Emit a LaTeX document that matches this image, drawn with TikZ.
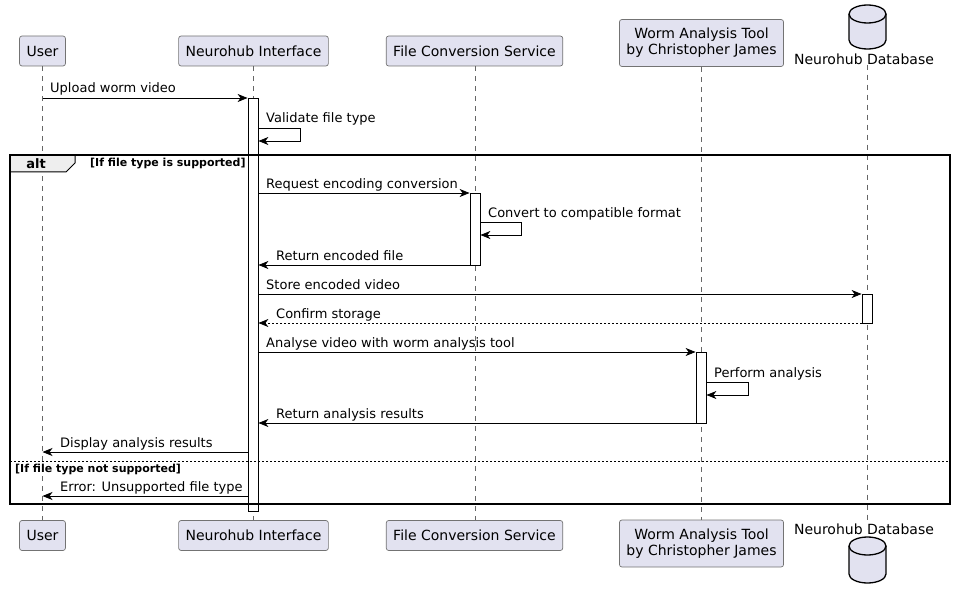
\documentclass[tikz,border=0pt]{standalone}
\usepackage{fontspec}
\setmainfont{DejaVu Sans}
\usetikzlibrary{arrows.meta}
\definecolor{partfill}{HTML}{E2E2F0}
\definecolor{tabfill}{HTML}{EEEEEE}

\begin{document}
\begin{tikzpicture}[x=1pt,y=-1pt,
  part/.style={draw=black!55,line width=0.7pt,fill=partfill,rounded corners=2.5pt,inner xsep=7pt,
    minimum height=30pt,align=center,font=\fontsize{14}{16}\selectfont},
  dblbl/.style={inner sep=0pt,font=\fontsize{14}{16}\selectfont},
  life/.style={draw=black!60,line width=0.6pt,dash pattern=on 5pt off 5pt},
  act/.style={draw=black,line width=0.8pt,fill=white,minimum width=10pt,inner sep=0pt},
  msg/.style={line width=0.8pt,-{Stealth[length=10pt,width=8pt,inset=3pt]}},
  ret/.style={msg,dash pattern=on 2pt off 2pt},
  lbl/.style={anchor=base west,inner sep=0pt,font=\fontsize{13}{15}\selectfont},
  cond/.style={anchor=base west,inner sep=0pt,font=\bfseries\fontsize{11}{13}\selectfont},
  frame/.style={draw=black,line width=1.4pt},
  dbshape/.style={draw=black,line width=1.3pt,fill=partfill}]
\useasboundingbox (0,0) rectangle (956,599);

\node[part] (userT) at (42.5,51) {User};
\node[part] (nhT) at (253.5,51) {Neurohub Interface};
\node[part] (fcT) at (474.5,51) {File Conversion Service};
\node[part,minimum height=47pt] (watT) at (701.5,43) {Worm Analysis Tool\\by Christopher James};
\node[dblbl] (dbT) at (864,59) {Neurohub Database};
\node[part] (userB) at (42.5,535.5) {User};
\node[part] (nhB) at (253.5,535.5) {Neurohub Interface};
\node[part] (fcB) at (474.5,535.5) {File Conversion Service};
\node[part,minimum height=47pt] (watB) at (701.5,543.5) {Worm Analysis Tool\\by Christopher James};
\node[dblbl] (dbB) at (864,529) {Neurohub Database};

\draw[dbshape] (849,14) -- (849,40) arc[start angle=180,end angle=0,x radius=18.5,y radius=9] -- (886,14)
  arc[start angle=0,end angle=-180,x radius=18.5,y radius=9] -- cycle;
\draw[dbshape,fill=none] (849,14) arc[start angle=180,end angle=0,x radius=18.5,y radius=9];
\draw[dbshape] (849,546) -- (849,574) arc[start angle=180,end angle=0,x radius=18.5,y radius=9] -- (886,546)
  arc[start angle=0,end angle=-180,x radius=18.5,y radius=9] -- cycle;
\draw[dbshape,fill=none] (849,546) arc[start angle=180,end angle=0,x radius=18.5,y radius=9];

\draw[life] (userT.south -| 42,0) -- (userB.north -| 42,0);
\draw[life] (nhT.south -| 253,0) -- (nhB.north -| 253,0);
\draw[life] (fcT.south -| 475,0) -- (fcB.north -| 475,0);
\draw[life] (watT.south -| 701,0) -- (watB.north -| 701,0);
\draw[life] (dbT.south -| 867,0) -- (dbB.north -| 867,0);

\node[act,minimum height=413pt] (actNH) at (253,304.5) {};
\node[act,minimum height=72pt] (actFC) at (475,229) {};
\node[act,minimum height=29pt] (actDB) at (867,308.5) {};
\node[act,minimum height=71pt] (actWAT) at (701,387.5) {};

\fill[tabfill] (10,155) -- (75,155) -- (75,163) -- (66,172) -- (10,172) -- cycle;
\draw[frame,line width=1pt] (75,155) -- (75,163) -- (66,172) -- (10,172);
\draw[frame] (10,155) rectangle (950,504);
\node[font=\bfseries\fontsize{13}{15}\selectfont] (alt) at (36,164) {alt};
\node[cond] (c1) at (90,167) {[If file type is supported]};
\draw[line width=0.6pt,dash pattern=on 2pt off 2pt] (10,461) -- (950,461);
\node[cond] (c2) at (15,472) {[If file type not supported]};

\draw[msg] (userT.south |- 0,98) -- (actNH.west |- 0,98);
\node[lbl] (m1) at (50,93) {Upload worm video};
\draw[msg] (actNH.east |- 0,128) -- ++(42,0) -- ++(0,13) -- (actNH.east |- 0,141);
\node[lbl] (m2) at (266,123) {Validate file type};
\draw[msg] (actNH.east |- 0,193) -- (actFC.west |- 0,193);
\node[lbl] (m3) at (266,188) {Request encoding conversion};
\draw[msg] (actFC.east |- 0,222) -- ++(41,0) -- ++(0,13) -- (actFC.east |- 0,235);
\node[lbl] (m4) at (488,217) {Convert to compatible format};
\draw[msg] (actFC.west |- 0,265) -- (actNH.east |- 0,265);
\node[lbl] (m5) at (276,260) {Return encoded file};
\draw[msg] (actNH.east |- 0,294) -- (actDB.west |- 0,294);
\node[lbl] (m6) at (266,289) {Store encoded video};
\draw[ret] (actDB.west |- 0,323) -- (actNH.east |- 0,323);
\node[lbl] (m7) at (276,318) {Confirm storage};
\draw[msg] (actNH.east |- 0,352) -- (actWAT.west |- 0,352);
\node[lbl] (m8) at (266,347) {Analyse video with worm analysis tool};
\draw[msg] (actWAT.east |- 0,382) -- ++(42,0) -- ++(0,13) -- (actWAT.east |- 0,395);
\node[lbl] (m9) at (714,377) {Perform analysis};
\draw[msg] (actWAT.west |- 0,423) -- (actNH.east |- 0,423);
\node[lbl] (m10) at (276,418) {Return analysis results};
\draw[msg] (actNH.west |- 0,452) -- (userT.south |- 0,452);
\node[lbl] (m11) at (60,447) {Display analysis results};
\draw[msg] (actNH.west |- 0,496) -- (userT.south |- 0,496);
\node[lbl] (m12) at (60,491) {Error: Unsupported file type};
\end{tikzpicture}
\end{document}
